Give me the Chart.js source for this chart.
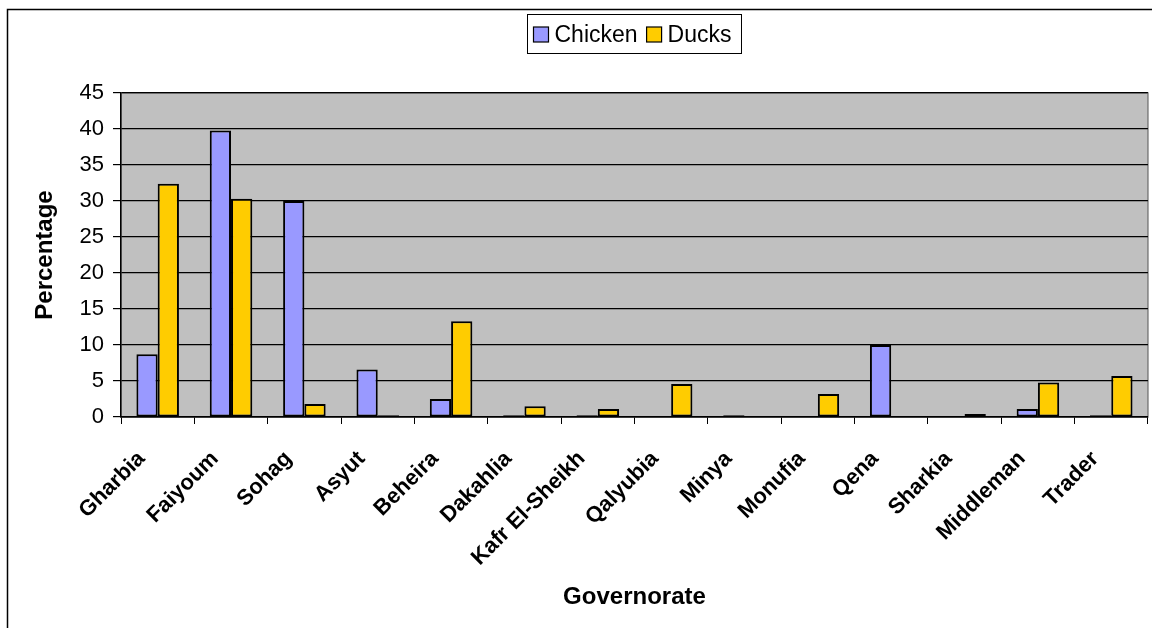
<!DOCTYPE html>
<html>
<head>
<meta charset="utf-8">
<script src="https://cdn.jsdelivr.net/npm/chart.js@4/dist/chart.umd.min.js"></script>
<style>
  html, body { margin: 0; padding: 0; background: #fff; }
  #wrap { width: 1152px; height: 628px; }
</style>
</head>
<body>
<div id="wrap"><canvas id="govChart" width="1152" height="628"></canvas></div>
<script>
// data
const governorates = ['Gharbia', 'Faiyoum', 'Sohag', 'Asyut', 'Beheira', 'Dakahlia', 'Kafr El-Sheikh',
    'Qalyubia', 'Minya', 'Monufia', 'Qena', 'Sharkia', 'Middleman', 'Trader'];
const chicken = [8.7, 39.8, 30.0, 6.6, 2.5, 0.25, 0.25, 0, 0.25, 0, 10.0, 0, 1.1, 0.25];
const ducks = [32.4, 30.3, 1.8, 0.25, 13.3, 1.5, 1.1, 4.6, 0, 3.2, 0, 0.4, 4.8, 5.7];
const yTicks = [0, 5, 10, 15, 20, 25, 30, 35, 40, 45];

const FONT = 'Liberation Sans, Arial, sans-serif';

// grey plot area + outer frame + boxed legend, like the old Excel look
const excelLook = {
    id: 'excelLook',
    beforeDraw(chart) {
        const { ctx, chartArea: a } = chart;
        ctx.save();
        ctx.fillStyle = '#C0C0C0';
        ctx.fillRect(a.left, a.top, a.right - a.left, a.bottom - a.top);
        ctx.strokeStyle = '#808080';
        ctx.lineWidth = 1.5;
        ctx.strokeRect(a.left, a.top, a.right - a.left, a.bottom - a.top);
        ctx.restore();
    },
    afterDraw(chart) {
        const { ctx, chartArea: a } = chart;
        ctx.save();
        // outer chart frame (runs off the right/bottom edge)
        ctx.strokeStyle = '#000';
        ctx.lineWidth = 1.5;
        ctx.strokeRect(7.5, 9.5, 1200, 700);

        // legend
        const items = chart.data.datasets.map(d => ({ label: d.label, color: d.backgroundColor }));
        ctx.font = '23px ' + FONT;
        const box = 15, gapIn = 6, gapOut = 9, padL = 6, padR = 10;
        let w = padL + padR;
        items.forEach((it, i) => {
            it.tw = ctx.measureText(it.label).width;
            w += box + gapIn + it.tw + (i < items.length - 1 ? gapOut : 0);
        });
        const h = 39, top = 14;
        const cx = (a.left + a.right) / 2;
        let x = Math.round(cx - w / 2) + 0.5;
        ctx.fillStyle = '#fff';
        ctx.fillRect(x, top + 0.5, w, h);
        ctx.lineWidth = 1;
        ctx.strokeRect(x, top + 0.5, w, h);
        let cur = x + padL;
        const midY = top + h / 2 + 1;
        ctx.textBaseline = 'middle';
        items.forEach(it => {
            ctx.fillStyle = it.color;
            ctx.fillRect(cur, midY - box / 2, box, box);
            ctx.strokeStyle = '#000';
            ctx.lineWidth = 1.2;
            ctx.strokeRect(cur, midY - box / 2, box, box);
            cur += box + gapIn;
            ctx.fillStyle = '#000';
            ctx.fillText(it.label, cur, midY + 1);
            cur += it.tw + gapOut;
        });
        ctx.restore();
    }
};

const ctx = document.getElementById('govChart').getContext('2d');
new Chart(ctx, {
    type: 'bar',
    data: {
        labels: governorates,
        datasets: [
            { label: 'Chicken', data: chicken, backgroundColor: '#9999FF', borderColor: '#000', borderWidth: 2, borderSkipped: false },
            { label: 'Ducks', data: ducks, backgroundColor: '#FFCC00', borderColor: '#000', borderWidth: 2, borderSkipped: false }
        ]
    },
    options: {
        responsive: false,
        animation: false,
        layout: { padding: { top: 93, right: 2, left: 0, bottom: 0 } },
        datasets: { bar: { categoryPercentage: 0.58, barPercentage: 1.0 } },
        plugins: {
            legend: { display: false },
            tooltip: { enabled: false }
        },
        scales: {
            x: {
                offset: true,
                grid: { offset: true, drawOnChartArea: false, color: '#000', tickLength: 7 },
                border: { color: '#000', width: 1.5 },
                ticks: {
                    color: '#000',
                    font: { family: FONT, size: 22, weight: 'bold' },
                    maxRotation: 45,
                    minRotation: 45,
                    autoSkip: false,
                    padding: 22,
                    labelOffset: -16
                },
                title: {
                    display: true,
                    text: 'Governorate',
                    color: '#000',
                    font: { family: FONT, size: 24, weight: 'bold' },
                    padding: { top: 0, bottom: 16 }
                },
                afterFit: s => { s.height = 628 - 417; }
            },
            y: {
                min: 0,
                max: 45,
                afterBuildTicks: s => { s.ticks = yTicks.map(v => ({ value: v })); },
                grid: { color: '#000', lineWidth: 1.2, tickLength: 8 },
                border: { color: '#000', width: 1.5 },
                ticks: {
                    color: '#000',
                    font: { family: FONT, size: 22 },
                    padding: 9
                },
                title: {
                    display: true,
                    text: 'Percentage',
                    color: '#000',
                    font: { family: FONT, size: 24, weight: 'bold' },
                    padding: { top: 31, bottom: 0 }
                },
                afterFit: s => { s.width = 121; }
            }
        }
    },
    plugins: [excelLook]
});
</script>
</body>
</html>
